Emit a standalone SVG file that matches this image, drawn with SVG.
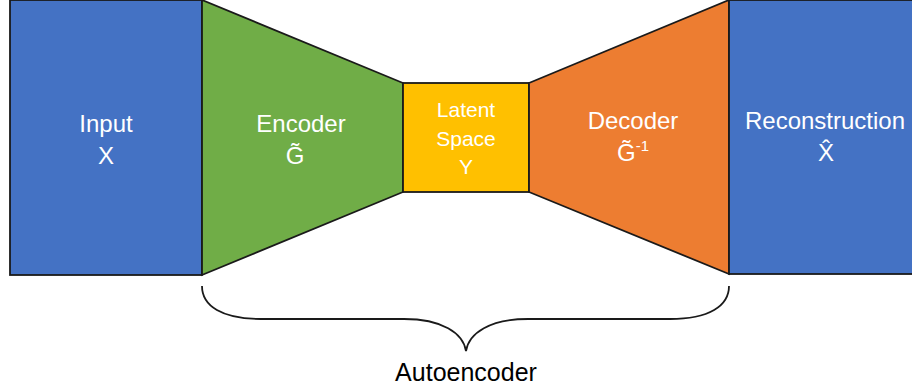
<svg xmlns="http://www.w3.org/2000/svg" width="912" height="387" viewBox="0 0 912 387">
<style>
.s{stroke:#1a1a1a;stroke-width:1.8;stroke-linejoin:miter}
.t{font-family:"Liberation Sans",Arial,sans-serif;fill:#fff;text-anchor:middle;font-size:24px}
.ts{font-size:21px}
.lab{font-family:"Liberation Sans",Arial,sans-serif;fill:#000;text-anchor:middle;font-size:25px}
</style>
<rect width="912" height="387" fill="#fff"/>
<g id="input">
<rect class="s" x="10" y="0" width="192" height="275" fill="#4472C4"/>
<text class="t" x="106" y="132">Input</text>
<text class="t" x="106" y="164">X</text>
</g>
<g id="encoder">
<polygon class="s" points="202,0 403,83 403,192 202,275" fill="#70AD47"/>
<text class="t" x="301" y="132">Encoder</text>
<text class="t" x="295" y="164">G̃</text>
</g>
<g id="latent">
<rect class="s" x="403" y="83" width="126" height="109" fill="#FFC000"/>
<text class="t ts" x="466" y="117">Latent</text>
<text class="t ts" x="466" y="146">Space</text>
<text class="t ts" x="466" y="174">Y</text>
</g>
<g id="decoder">
<polygon class="s" points="529,83 729,0 729,274 529,192" fill="#ED7D31"/>
<text class="t" x="633" y="129">Decoder</text>
<text class="t" x="633" y="161">G̃<tspan font-size="15" dy="-10">-1</tspan></text>
</g>
<g id="reconstruction">
<rect class="s" x="729" y="0" width="190" height="274" fill="#4472C4"/>
<text class="t" x="825" y="129">Reconstruction</text>
<text class="t" x="826" y="161">X̂</text>
</g>
<g id="connectors">
<path d="M202,286 C202,306 222,319 261,319 L404,319 C442,319 463,333 466,351 C469,333 490,319 528,319 L670,319 C709,319 729,306 729,286" fill="none" stroke="#1a1a1a" stroke-width="1.8"/>
</g>
<g id="autoencoder-label">
<text class="lab" x="466" y="381">Autoencoder</text>
</g>
</svg>
